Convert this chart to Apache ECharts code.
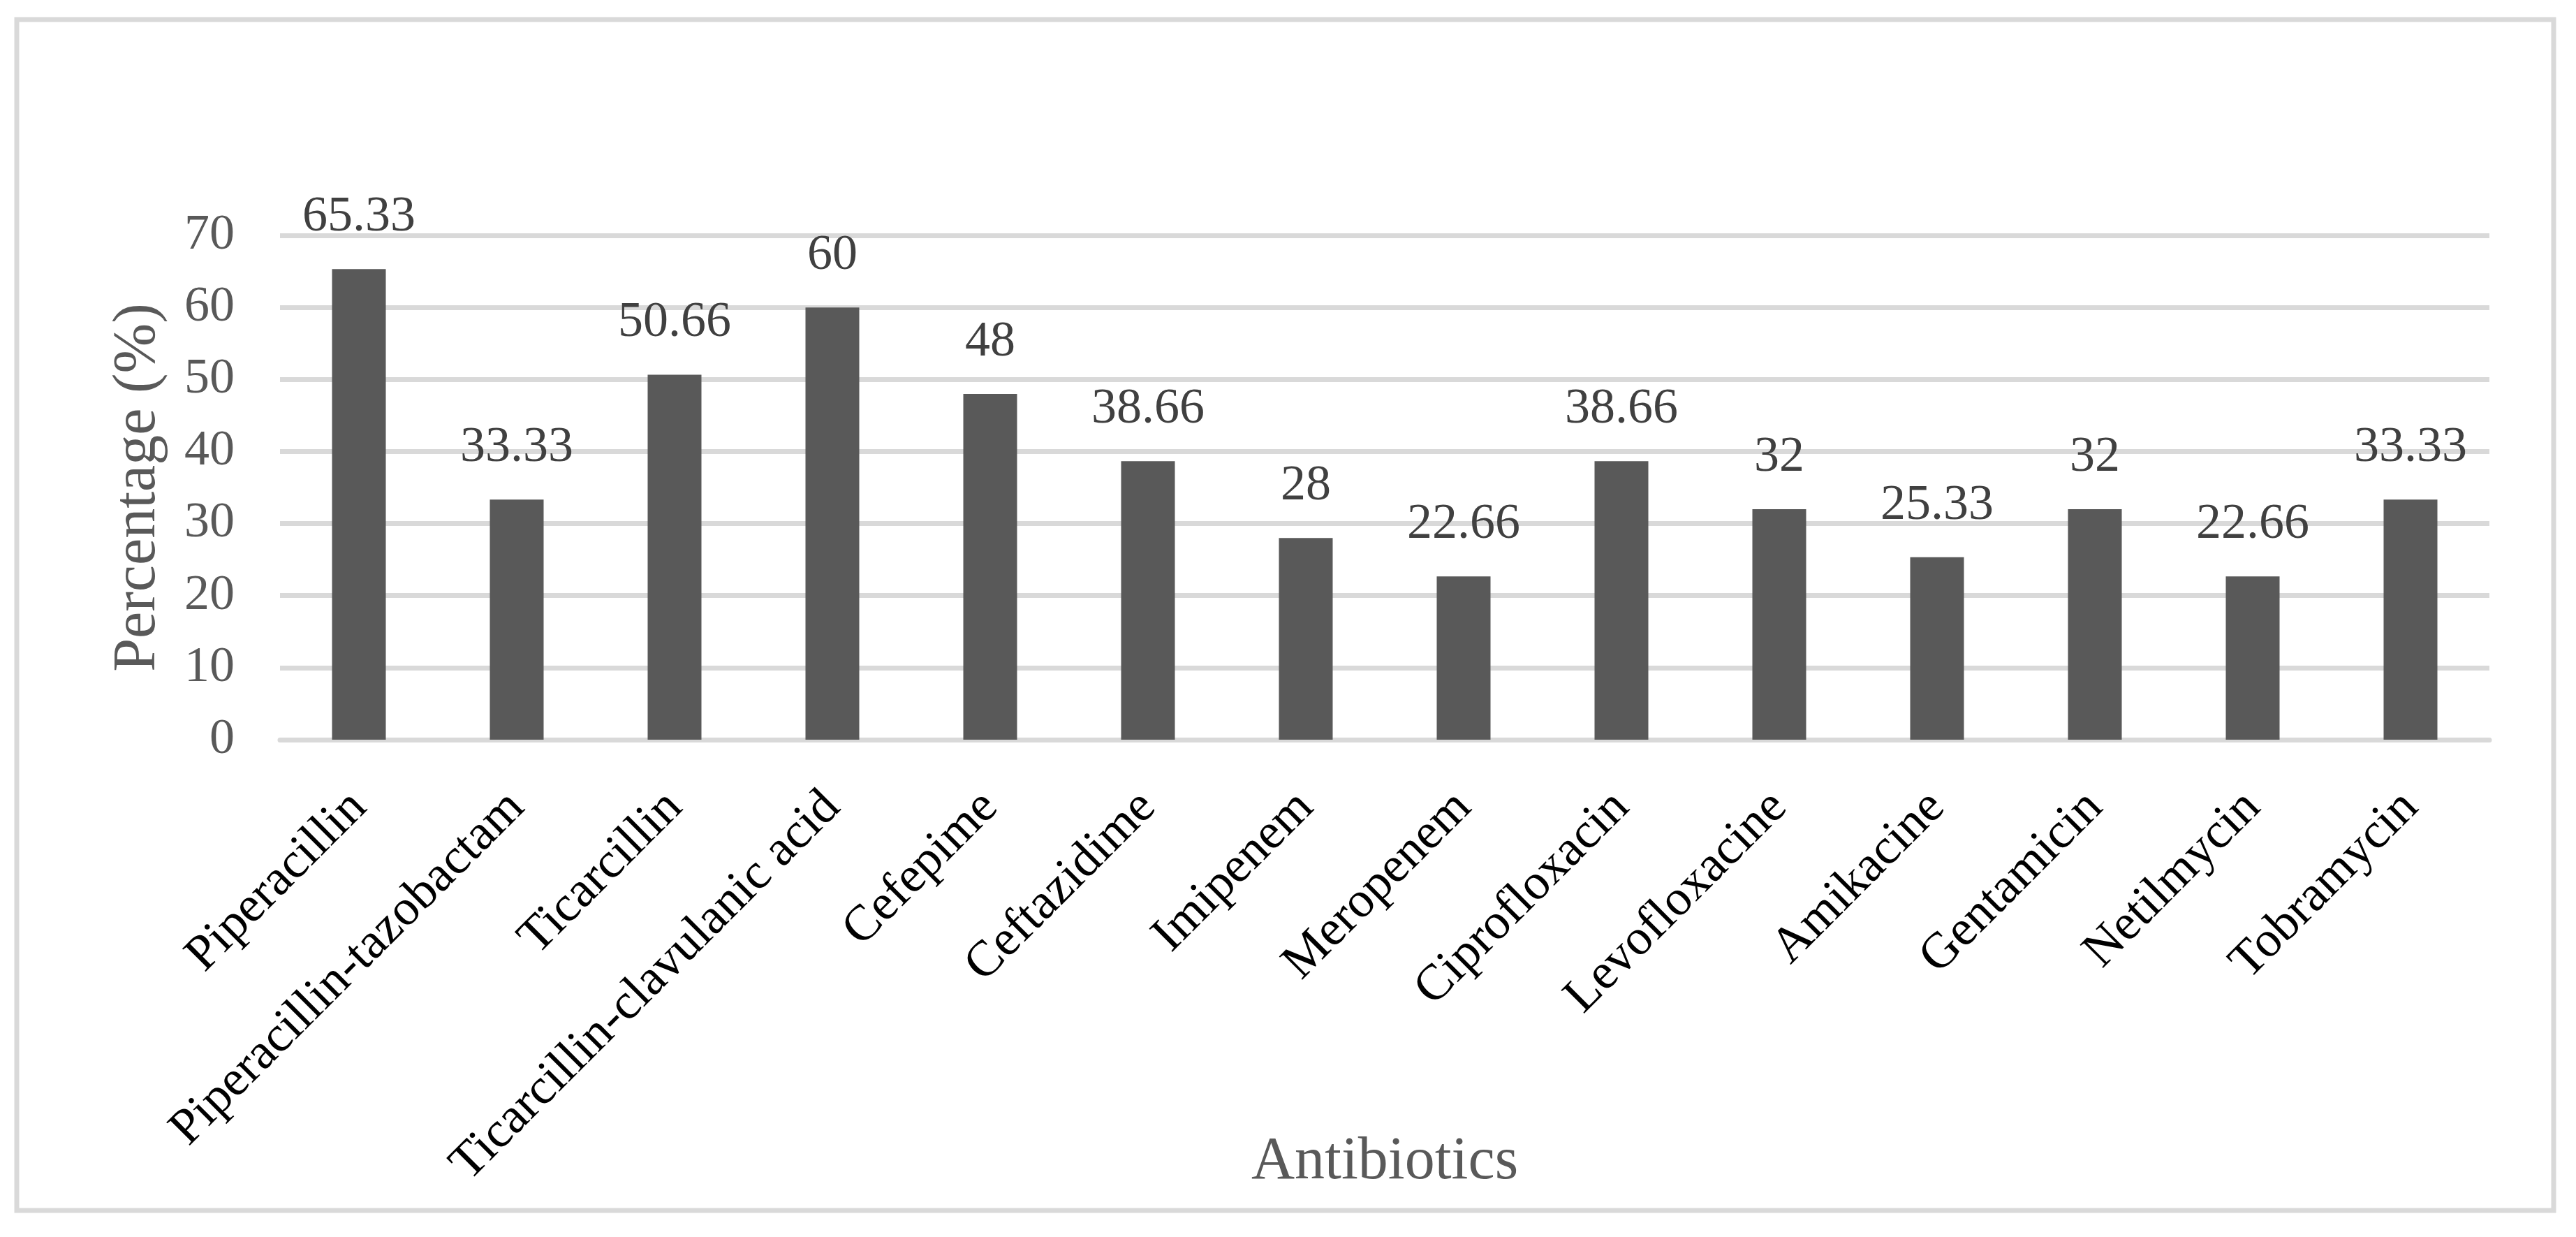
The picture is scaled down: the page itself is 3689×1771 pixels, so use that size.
<!DOCTYPE html>
<html>
<head>
<meta charset="utf-8">
<script src="https://cdn.jsdelivr.net/npm/echarts@6/dist/echarts.min.js"></script>
<style>
html,body{margin:0;padding:0;background:#fff;}
#chart{width:3689px;height:1771px;}
</style>
</head>
<body>
<div id="chart"></div>
<script>
const categories = ['Piperacillin','Piperacillin-tazobactam','Ticarcillin','Ticarcillin-clavulanic acid','Cefepime','Ceftazidime','Imipenem','Meropenem','Ciprofloxacin','Levofloxacine','Amikacine','Gentamicin','Netilmycin','Tobramycin'];
const percentages = [65.33, 33.33, 50.66, 60, 48, 38.66, 28, 22.66, 38.66, 32, 25.33, 32, 22.66, 33.33];
const yTicks = { min: 0, max: 70, interval: 10 };
const xTitle = 'Antibiotics';
const yTitle = 'Percentage (%)';

const FONT = '"Liberation Serif", "Times New Roman", serif';
const chart = echarts.init(document.getElementById('chart'), null, {renderer:'canvas'});
chart.setOption({
  backgroundColor: '#ffffff',
  animation: false,
  graphic: [{
    type: 'rect',
    shape: { x: 24, y: 28, width: 3633, height: 1705 },
    style: { fill: 'none', stroke: '#d9d9d9', lineWidth: 7 },
    z: -1
  }],
  grid: { left: 401, right: 124, top: 337, bottom: 712, containLabel: false, outerBoundsMode: 'none' },
  xAxis: {
    type: 'category',
    data: categories,
    name: xTitle,
    nameLocation: 'middle',
    nameGap: 562,
    nameMoveOverlap: false,
    nameTextStyle: { fontFamily: FONT, fontSize: 86, color: '#595959' },
    axisLine: { show: true, lineStyle: { color: '#d9d9d9', width: 7 } },
    axisTick: { show: false },
    axisLabel: { interval: 0, rotate: 45, margin: 86, fontFamily: FONT, fontSize: 72, color: '#000000' }
  },
  yAxis: {
    type: 'value',
    min: yTicks.min, max: yTicks.max, interval: yTicks.interval,
    name: yTitle,
    nameLocation: 'middle',
    nameGap: 160,
    nameMoveOverlap: false,
    nameTextStyle: { fontFamily: FONT, fontSize: 86, color: '#595959' },
    axisLine: { show: false },
    axisTick: { show: false },
    axisLabel: { margin: 65, fontFamily: FONT, fontSize: 72, color: '#595959' },
    splitLine: { show: true, lineStyle: { color: '#d9d9d9', width: 7 } }
  },
  series: [{
    type: 'bar',
    data: percentages,
    barWidth: 77,
    itemStyle: { color: '#595959' },
    label: {
      show: true, position: 'top', distance: 38,
      fontFamily: FONT, fontSize: 72, color: '#404040'
    }
  }]
});
</script>
</body>
</html>
